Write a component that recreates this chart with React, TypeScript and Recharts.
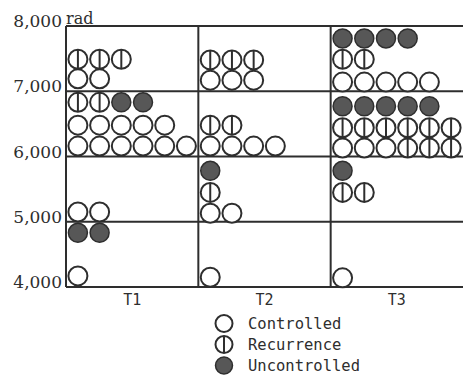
import {
  ScatterChart, Scatter, XAxis, YAxis, CartesianGrid, ReferenceLine, Legend,
} from 'recharts'

const stages = ['T1', 'T2', 'T3']
const doseTicks = [4000, 5000, 6000, 7000, 8000]

// rows of patients, top to bottom: dose (rad) and outcome of each patient left to right
// C = controlled, R = recurrence, U = uncontrolled
const t1Doses = [7490, 7190, 6830, 6480, 6160, 5150, 4830, 4170]
const t1Rows = ['RRR', 'CC', 'RRUU', 'CCCCC', 'CCCCCC', 'CC', 'UU', 'C']
const t2Doses = [7480, 7170, 6480, 6160, 5780, 5450, 5130, 4150]
const t2Rows = ['RRR', 'CCC', 'RR', 'CCCC', 'U', 'R', 'CC', 'C']
const t3Doses = [7810, 7490, 7140, 6770, 6440, 6130, 5780, 5450, 4140]
const t3Rows = ['UUUU', 'RR', 'CCCCC', 'UUUUU', 'RRRRRR', 'CCCRRR', 'U', 'RR', 'C']

const outcomes = [
  { key: 'C', name: 'Controlled' },
  { key: 'R', name: 'Recurrence' },
  { key: 'U', name: 'Uncontrolled' },
]

// dot layout inside a column, as a fraction of column width
const PAD = 0.09
const STEP = 0.164
const INK = '#2e2e2e'

const columns: [number[], string[]][] = [[t1Doses, t1Rows], [t2Doses, t2Rows], [t3Doses, t3Rows]]
const points = columns.flatMap(([doses, rows], s) =>
  rows.flatMap((row, i) =>
    row.split('').map((kind, k) => ({ x: s + PAD + k * STEP, dose: doses[i], kind })),
  ),
)

function Mark({ cx, cy, kind, r = 9.5 }: { cx: number; cy: number; kind: string; r?: number }) {
  if (kind === 'U') {
    return <circle cx={cx} cy={cy} r={r} fill="#575757" stroke={INK} strokeWidth={1.5} />
  }
  return (
    <g>
      <circle cx={cx} cy={cy} r={r} fill="#fff" stroke={INK} strokeWidth={2} />
      {kind === 'R' && <line x1={cx} y1={cy - r} x2={cx} y2={cy + r} stroke={INK} strokeWidth={2} />}
    </g>
  )
}

const DoseTick = ({ x, y, payload }: any) => (
  <g>
    <text x={x} y={y - 5} dy="0.355em" textAnchor="end" fill={INK}
      style={{ fontFamily: 'DejaVu Serif', fontSize: 17 }}>
      {payload.value.toLocaleString('en-US')}
    </text>
    {payload.value === 8000 && (
      <text x={x + 4} y={y - 8} dy="0.355em" fill={INK} style={{ fontFamily: 'DejaVu Serif', fontSize: 16 }}>
        rad
      </text>
    )}
  </g>
)

const LegendContent = ({ payload }: any) => (
  <div style={{ fontFamily: 'DejaVu Sans Mono', fontSize: 15.5, color: INK }}>
    {(payload || []).map((p: any) => {
      const kind = outcomes.find((o) => o.name === p.value)?.key || 'C'
      return (
        <div key={p.value} style={{ display: 'flex', alignItems: 'center', height: 21 }}>
          <svg width={22} height={21}>
            <Mark cx={11} cy={10.5} kind={kind} r={8.5} />
          </svg>
          <span style={{ marginLeft: 13 }}>{p.value}</span>
        </div>
      )
    })}
  </div>
)

export default function App() {
  return (
    <div style={{ position: 'absolute', left: 0, top: 0, background: '#fff' }}>
      <ScatterChart width={463} height={379} margin={{ top: 26, right: 0, left: 0, bottom: 0 }}>
        <CartesianGrid horizontal vertical={false} stroke={INK} strokeWidth={2} />
        <XAxis
          type="number"
          dataKey="x"
          domain={[0, 3]}
          ticks={[0.5, 1.5, 2.5]}
          tickFormatter={(v: number) => stages[Math.floor(v)]}
          axisLine={false}
          tickLine={false}
          tickSize={0}
          tickMargin={7}
          height={92}
          tick={{ fill: INK, fontFamily: 'DejaVu Sans Mono', fontSize: 15 }}
        />
        <YAxis
          type="number"
          dataKey="dose"
          domain={[4000, 8000]}
          ticks={doseTicks}
          axisLine={false}
          tickLine={false}
          tickSize={0}
          tickMargin={4}
          width={66}
          tick={<DoseTick />}
        />
        {[0, 1, 2].map((v) => (
          <ReferenceLine key={v} x={v} stroke={INK} strokeWidth={2} />
        ))}
        {outcomes.map((o) => (
          <Scatter
            key={o.key}
            name={o.name}
            data={points.filter((p) => p.kind === o.key)}
            fill={INK}
            isAnimationActive={false}
            shape={(props: any) => <Mark cx={props.cx} cy={props.cy} kind={o.key} />}
          />
        ))}
        <Legend
          layout="vertical"
          align="center"
          verticalAlign="middle"
          content={<LegendContent />}
          wrapperStyle={{ left: 213, top: 313, width: 200 }}
        />
      </ScatterChart>
    </div>
  )
}
